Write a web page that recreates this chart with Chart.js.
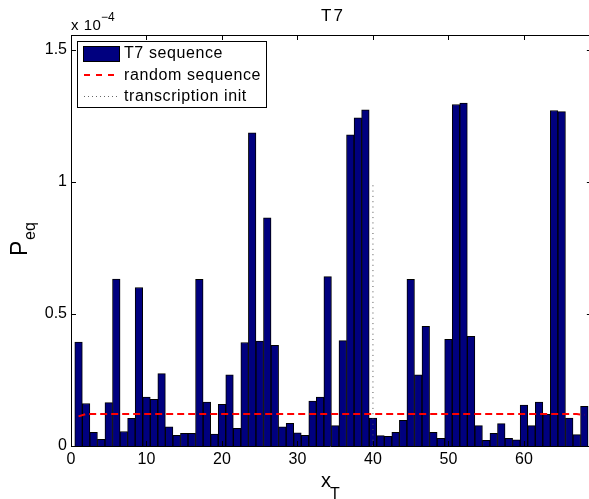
<!DOCTYPE html>
<html>
<head>
<meta charset="utf-8">
<script src="https://cdn.jsdelivr.net/npm/chart.js@4.4.1/dist/chart.umd.min.js"></script>
<style>
  html, body { margin: 0; padding: 0; background: #fff; }
  #wrap { width: 589px; height: 499px; }
</style>
</head>
<body>
<div id="wrap"><canvas id="chart" width="589" height="499"></canvas></div>
<script>
// values in units of 1e-4
const t7Values = [
  0.393, 0.161, 0.052, 0.025, 0.164, 0.632, 0.055, 0.105, 0.600, 0.185,
  0.177, 0.274, 0.073, 0.040, 0.048, 0.048, 0.631, 0.166, 0.045, 0.158,
  0.269, 0.067, 0.392, 1.186, 0.397, 0.864, 0.381, 0.073, 0.086, 0.050,
  0.040, 0.170, 0.185, 0.641, 0.077, 0.399, 1.178, 1.242, 1.273, 0.106,
  0.039, 0.037, 0.052, 0.097, 0.631, 0.269, 0.453, 0.052, 0.029, 0.404,
  1.293, 1.298, 0.415, 0.077, 0.021, 0.048, 0.085, 0.029, 0.023, 0.155,
  0.077, 0.166, 0.120, 1.270, 1.266, 0.106, 0.043, 0.150
];
const randomValues = [
  0.112, 0.121, 0.121, 0.121, 0.121, 0.121, 0.121, 0.121, 0.121, 0.121,
  0.121, 0.121, 0.121, 0.121, 0.121, 0.121, 0.121, 0.121, 0.121, 0.121,
  0.121, 0.121, 0.121, 0.121, 0.121, 0.121, 0.121, 0.121, 0.121, 0.121,
  0.121, 0.121, 0.121, 0.121, 0.121, 0.121, 0.121, 0.121, 0.121, 0.121,
  0.121, 0.121, 0.121, 0.121, 0.121, 0.121, 0.121, 0.121, 0.121, 0.121,
  0.121, 0.121, 0.121, 0.121, 0.121, 0.121, 0.121, 0.121, 0.121, 0.121,
  0.121, 0.121, 0.121, 0.121, 0.121, 0.121, 0.121, 0.118
];
const initPos = 40;
const initTop = 0.99;
const xTickValues = [0, 10, 20, 30, 40, 50, 60];
const yTickValues = [0, 0.5, 1, 1.5];
const yTickLabels = ["0", "0.5", "1", "1.5"];
const seriesNames = ["T7 sequence", "random sequence", "transcription init"];

const FONT = "'Liberation Sans', Arial, Helvetica, sans-serif";
const NAVY = "#00007f";

const positions = t7Values.map((v, i) => i + 1);

// inward MATLAB-style ticks, top box line, texts and legend
const matlabAxes = {
  id: "matlabAxes",
  afterDraw(chart) {
    const { ctx, chartArea: a, scales: { x, y } } = chart;
    const rightEdge = x.getPixelForValue(69);
    ctx.save();
    ctx.strokeStyle = "#000";
    ctx.lineWidth = 1;
    ctx.beginPath();
    ctx.moveTo(a.left, a.top + 0.5);
    ctx.lineTo(a.right, a.top + 0.5);
    xTickValues.forEach((v) => {
      const px = Math.round(x.getPixelForValue(v)) + 0.5;
      ctx.moveTo(px, a.top);
      ctx.lineTo(px, a.top + 5);
      ctx.moveTo(px, a.bottom);
      ctx.lineTo(px, a.bottom - 5);
    });
    yTickValues.forEach((v) => {
      const py = Math.round(y.getPixelForValue(v)) + 0.5;
      ctx.moveTo(a.left, py);
      ctx.lineTo(a.left + 5, py);
      ctx.moveTo(rightEdge, py);
      ctx.lineTo(rightEdge - 5, py);
    });
    ctx.stroke();

    // title
    ctx.fillStyle = "#000";
    ctx.textBaseline = "alphabetic";
    ctx.textAlign = "center";
    ctx.font = "17px " + FONT;
    ctx.letterSpacing = "2px";
    ctx.fillText("T7", 333, 21);
    ctx.letterSpacing = "0px";

    // exponent
    ctx.textAlign = "left";
    ctx.font = "15px " + FONT;
    ctx.letterSpacing = "0.5px";
    ctx.fillText("x 10", 71, 30);
    ctx.letterSpacing = "0px";
    ctx.font = "12px " + FONT;
    ctx.fillText("\u22124", 101, 21);

    // x label
    ctx.font = "20px " + FONT;
    ctx.fillText("x", 321, 487);
    ctx.font = "16px " + FONT;
    ctx.fillText("T", 330, 499);

    // y label
    ctx.save();
    ctx.translate(27, 256);
    ctx.rotate(-Math.PI / 2);
    ctx.font = "23px " + FONT;
    ctx.fillText("P", 0, 0);
    ctx.font = "16px " + FONT;
    ctx.fillText("eq", 16, 8);
    ctx.restore();

    // legend
    const lx = 77, ly = 41, lw = 189, lh = 66;
    ctx.fillStyle = "#fff";
    ctx.fillRect(lx, ly, lw, lh);
    ctx.strokeStyle = "#000";
    ctx.strokeRect(lx + 0.5, ly + 0.5, lw, lh);
    ctx.fillStyle = NAVY;
    ctx.fillRect(83, 46, 37, 16);
    ctx.strokeRect(83.5, 46.5, 36, 15);
    ctx.strokeStyle = "#ff0000";
    ctx.lineWidth = 2;
    ctx.setLineDash([6, 6]);
    ctx.beginPath();
    ctx.moveTo(84, 75);
    ctx.lineTo(120, 75);
    ctx.stroke();
    ctx.strokeStyle = "#666";
    ctx.lineWidth = 1;
    ctx.setLineDash([1, 3]);
    ctx.beginPath();
    ctx.moveTo(84, 96.5);
    ctx.lineTo(120, 96.5);
    ctx.stroke();
    ctx.setLineDash([]);
    ctx.fillStyle = "#000";
    ctx.font = "16px " + FONT;
    ctx.letterSpacing = "0.6px";
    ctx.textBaseline = "middle";
    seriesNames.forEach((name, i) => {
      ctx.fillText(name, 124, 54 + i * 21.5);
    });
    ctx.letterSpacing = "0px";
    ctx.restore();
  }
};

new Chart(document.getElementById("chart").getContext("2d"), {
  type: "bar",
  data: {
    datasets: [
      {
        label: seriesNames[0],
        data: positions.map((p, i) => ({ x: p, y: t7Values[i] })),
        backgroundColor: NAVY,
        borderColor: "#000",
        borderWidth: 1,
        borderSkipped: "start",
        barPercentage: 1,
        categoryPercentage: 1,
        order: 3
      },
      {
        type: "line",
        label: seriesNames[1],
        data: positions.map((p, i) => ({ x: p, y: randomValues[i] })),
        borderColor: "#ff0000",
        borderWidth: 2,
        borderDash: [7, 4],
        pointRadius: 0,
        fill: false,
        order: 1
      },
      {
        type: "line",
        label: seriesNames[2],
        data: [{ x: initPos, y: 0 }, { x: initPos, y: initTop }],
        borderColor: "#555",
        borderWidth: 1,
        borderDash: [1, 4.3],
        pointRadius: 0,
        fill: false,
        order: 2
      }
    ]
  },
  options: {
    responsive: false,
    animation: false,
    layout: { padding: { top: 35, left: 0, right: 0, bottom: 0 } },
    plugins: {
      legend: { display: false },
      title: { display: false },
      tooltip: { enabled: false }
    },
    scales: {
      x: {
        type: "linear",
        min: 0,
        max: 68.62,
        offset: false,
        grid: { display: false, drawTicks: false },
        border: { display: true, color: "#000", width: 1 },
        afterBuildTicks: (s) => { s.ticks = xTickValues.map((v) => ({ value: v })); },
        afterFit: (s) => { s.height = 53; },
        ticks: { color: "#000", font: { family: FONT, size: 16 }, padding: 4, maxRotation: 0 }
      },
      y: {
        min: 0,
        max: 1.556,
        grid: { display: false, drawTicks: false },
        border: { display: true, color: "#000", width: 1 },
        afterBuildTicks: (s) => { s.ticks = yTickValues.map((v) => ({ value: v })); },
        afterFit: (s) => { s.width = 71; },
        ticks: {
          color: "#000",
          font: { family: FONT, size: 16 },
          padding: 4,
          callback: (v) => yTickLabels[yTickValues.indexOf(v)]
        }
      }
    }
  },
  plugins: [matlabAxes]
});
</script>
</body>
</html>
